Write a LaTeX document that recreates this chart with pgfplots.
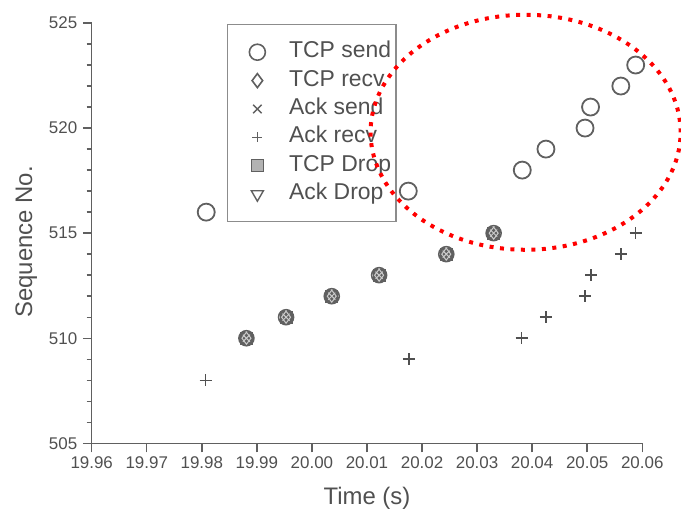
\documentclass[border=0pt]{standalone}
\usepackage{fontspec}
\setmainfont{Liberation Sans}
\usepackage{pgfplots}
\pgfplotsset{compat=1.18}
\definecolor{ink}{HTML}{505050}
\definecolor{mk}{HTML}{606060}
\definecolor{frame}{HTML}{8C8C8C}

% Packet trace: sequence numbers against time
\pgfplotstableread{
t        seq
19.9808  516
20.0175  517
20.0382  518
20.0425  519
20.0496  520
20.0506  521
20.0561  522
20.0588  523
}\tcpsend
\pgfplotstableread{
t        seq
19.9881  510
19.9953  511
20.0036  512
20.0122  513
20.0244  514
20.0330  515
}\delivered
\pgfplotstableread{
t        seq
19.9807  508
20.0176  509
20.0381  510
20.0425  511
20.0496  512
20.0507  513
20.0561  514
20.0588  515
}\ackrecv

\pgfplotsset{
  keyimg/.style={only marks,
    legend image code/.code={\path (0bp,0bp) (40bp,0bp); \draw[##1] plot coordinates {(24bp,0bp)};}},
}

\begin{document}
\begin{tikzpicture}
\path[use as bounding box] (-91.7bp,-70.7bp) rectangle (589.3bp,443.3bp);
\begin{axis}[
  at={(0,0)}, anchor=south west,
  scale only axis, width=550.6bp, height=420.3bp,
  xmin=19.96, xmax=20.06, ymin=505, ymax=525,
  clip=false,
  axis x line*=bottom, axis y line*=left,
  axis line style={draw=mk, line width=1.6bp},
  every tick/.style={draw=mk, line width=1.4bp},
  tick align=outside,
  major tick length=9bp, minor tick length=5bp,
  xtick={19.96,19.97,...,20.061}, minor x tick num=1,
  ytick={505,510,515,520,525}, minor y tick num=4,
  /pgf/number format/assume math mode=true,
  x tick label style={/pgf/number format/.cd, fixed, fixed zerofill, precision=2, /tikz/.cd},
  tick label style={font=\fontsize{17}{20}\selectfont, text=ink},
  xticklabel style={yshift=-1bp},
  yticklabel style={xshift=-2bp},
  xlabel={Time (s)}, ylabel={Sequence No.},
  label style={font=\fontsize{24}{28}\selectfont, text=ink},
  x label style={at={(axis description cs:0.5,0)}, anchor=north, inner sep=0pt, yshift=-44bp},
  y label style={at={(axis description cs:-0.119,0.479)}, anchor=center, inner sep=0pt},
  legend style={at={(0.2455,0.9976)}, anchor=north west,
    draw=frame, line width=1.4bp, text=ink,
    font=\fontsize{23}{27}\selectfont,
    inner xsep=5bp, inner ysep=15bp, row sep=3.4bp, column sep=15bp,
    nodes={inner xsep=0bp, inner ysep=2bp, text height=16bp, text depth=5bp}},
  legend cell align=left,
]
% sent segments not yet acknowledged
\addplot[only marks, mark=o, mark size=8.5bp, draw=mk, line width=1.8bp, forget plot] table[x=t, y=seq] {\tcpsend};
% segments that were sent, received and acknowledged (markers overlap)
\addplot[only marks, mark=square*, mark size=6bp, draw=mk, fill=mk, line width=1bp, forget plot] table[x=t, y=seq] {\delivered};
\addplot[only marks, mark=o, mark size=7.5bp, draw=mk, line width=1.6bp, forget plot] table[x=t, y=seq] {\delivered};
\addplot[only marks, mark=diamond, mark size=6bp, draw=gray!40, line width=1bp, forget plot] table[x=t, y=seq] {\delivered};
\addplot[only marks, mark=x, mark size=5bp, draw=gray!40, line width=1bp, forget plot] table[x=t, y=seq] {\delivered};
% acknowledgements arriving at the sender
\addplot[only marks, mark=+, mark size=6bp, draw=ink, line width=1.5bp, forget plot] table[x=t, y=seq] {\ackrecv};

\addlegendimage{keyimg, mark=o, mark size=8bp, draw=mk, line width=1.6bp}
\addlegendentry{TCP send}
\addlegendimage{keyimg, mark=diamond, mark size=7bp, draw=mk, line width=1.6bp}
\addlegendentry{TCP recv}
\addlegendimage{keyimg, mark=x, mark size=6bp, draw=mk, line width=1.4bp}
\addlegendentry{Ack send}
\addlegendimage{keyimg, mark=+, mark size=5bp, draw=mk, line width=1.2bp}
\addlegendentry{Ack recv}
\addlegendimage{keyimg, mark=square*, mark size=6bp, draw=mk, fill=gray!60, line width=1.2bp}
\addlegendentry{TCP Drop}
\addlegendimage{keyimg, mark=triangle, mark options={rotate=180}, mark size=7bp, draw=mk, line width=1.4bp}
\addlegendentry{Ack Drop}

\coordinate (hl) at (axis cs:20.0388,519.8);
\end{axis}
% highlighted region, drawn over the legend
\draw[red, line width=4bp, dash pattern=on 4bp off 6.5bp] (hl) ellipse [x radius=155bp, y radius=117.5bp];
\end{tikzpicture}
\end{document}
